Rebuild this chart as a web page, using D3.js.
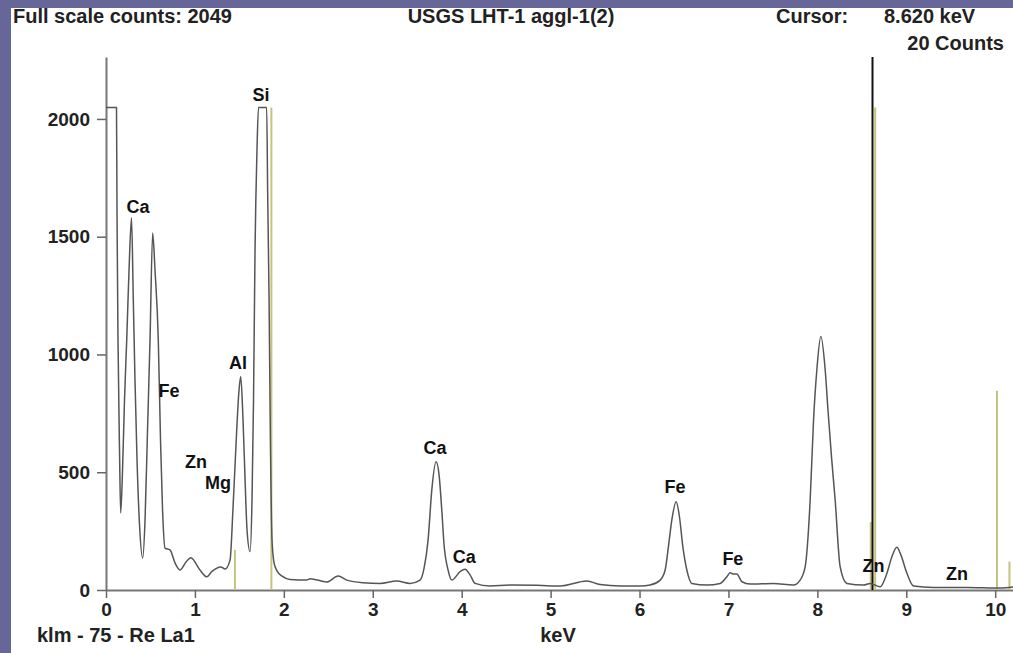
<!DOCTYPE html>
<html>
<head>
<meta charset="utf-8">
<script src="https://cdn.jsdelivr.net/npm/d3@7"></script>
<style>
    body { margin: 0; background: #666699; }
    text { font-family: "Liberation Sans", Arial, sans-serif; }
</style>
</head>
<body>
<svg id="chart"></svg>
<script>
// spectrum trace (energy in keV, counts clipped at full scale)
const spectrumKev = [
    0.000, 0.118, 0.124, 0.135, 0.152, 0.165, 0.186, 0.208, 0.233, 0.259,
    0.287, 0.307, 0.326, 0.349, 0.377, 0.413, 0.439, 0.467, 0.495, 0.525,
    0.551, 0.588, 0.613, 0.636, 0.664, 0.720, 0.776, 0.832, 0.900, 0.953,
    1.057, 1.133, 1.189, 1.290, 1.339, 1.395, 1.429, 1.470, 1.496, 1.515,
    1.541, 1.564, 1.586, 1.620, 1.642, 1.659, 1.676, 1.698, 1.715, 1.807,
    1.818, 1.834, 1.850, 1.867, 1.890, 1.923, 1.980, 2.070, 2.258, 2.295,
    2.483, 2.610, 2.708, 2.891, 3.082, 3.270, 3.420, 3.532, 3.577, 3.622,
    3.664, 3.712, 3.746, 3.776, 3.802, 3.847, 3.889, 3.982, 4.038, 4.094,
    4.151, 4.319, 4.544, 4.845, 5.107, 5.407, 5.557, 5.782, 6.007, 6.119,
    6.232, 6.288, 6.325, 6.363, 6.412, 6.449, 6.487, 6.532, 6.588, 6.757,
    6.907, 6.982, 7.019, 7.053, 7.094, 7.151, 7.244, 7.506, 7.731, 7.806,
    7.863, 7.919, 7.957, 7.994, 8.039, 8.088, 8.120, 8.160, 8.200, 8.256,
    8.332, 8.519, 8.594, 8.706, 8.782, 8.838, 8.894, 8.939, 9.007, 9.081,
    9.306, 9.682, 10.056, 10.203
];
const spectrumCounts = [
    2049, 2049, 1592, 1062, 594, 327, 510, 807, 1062, 1359,
    1580, 1231, 892, 552, 276, 136, 297, 679, 1062, 1516,
    1359, 1062, 637, 340, 178, 170, 115, 85, 119, 137,
    85, 56, 78, 98, 89, 127, 352, 679, 849, 906,
    722, 467, 255, 163, 382, 807, 1444, 1868, 2049, 2049,
    1690, 1231, 594, 212, 115, 81, 59, 45, 42, 48,
    34, 59, 42, 31, 28, 38, 28, 42, 93, 212,
    425, 544, 488, 340, 191, 85, 42, 78, 88, 64,
    28, 17, 21, 20, 17, 38, 23, 17, 17, 21,
    42, 85, 184, 297, 375, 311, 184, 85, 28, 21,
    28, 56, 73, 68, 68, 35, 25, 28, 21, 42,
    99, 382, 722, 934, 1076, 934, 760, 560, 382, 99,
    28, 21, 28, 14, 71, 141, 181, 149, 71, 17,
    11, 11, 8, 13
];

// axis ticks
const xTicks = [0, 1, 2, 3, 4, 5, 6, 7, 8, 9, 10];
const yTicks = [0, 500, 1000, 1500, 2000];

// KLM marker lines (Re)
const markerKev = [1.45, 1.86, 8.60, 8.65, 10.02, 10.16];
const markerCounts = [170, 2049, 289, 2049, 846, 120];

// element labels
const labelNames = ["Si", "Ca", "Fe", "Al", "Zn", "Mg", "Ca", "Ca", "Fe", "Fe", "Zn", "Zn"];
const labelKev = [1.743, 0.36, 0.709, 1.485, 1.012, 1.26, 3.70, 4.03, 6.40, 7.05, 8.63, 9.57];
const labelCounts = [2076, 1601, 820, 938, 518, 429, 577, 115, 412, 106, 76, 42];

// header values
const fullScaleCounts = 2049;
const sampleName = "USGS LHT-1 aggl-1(2)";
const cursorKev = 8.62;
const cursorCounts = 20;
const klmText = "klm - 75 - Re La1";

class SpectrumChart {
    #svg;
    #x;
    #y;

    constructor() {
        this.#setup();
        this.#drawAxes();
        this.#drawMarkers();
        this.#drawSpectrum();
        this.#drawLabels();
    }

    #setup() {
        const width = 1013;
        const height = 653;

        this.#svg = d3.select("#chart")
            .attr("width", width)
            .attr("height", height)
            .style("display", "block");

        // purple frame with the white panel inside
        this.#svg.append("rect")
            .attr("width", width)
            .attr("height", height)
            .attr("fill", "#666699");
        this.#svg.append("rect")
            .attr("x", 11)
            .attr("y", 8)
            .attr("width", width - 11)
            .attr("height", height - 8)
            .attr("fill", "#ffffff");

        this.#x = d3.scaleLinear().domain([0, 10.2]).range([106, 1013]);
        this.#y = d3.scaleLinear().domain([0, 2263]).range([590, 57]);
    }

    #drawAxes() {
        const svg = this.#svg;

        const xAxis = svg.append("g")
            .attr("transform", "translate(0,590)")
            .call(d3.axisBottom(this.#x)
                .tickValues(xTicks)
                .tickSize(8)
                .tickSizeOuter(0)
                .tickPadding(5)
                .tickFormat(d3.format("d")));

        const yAxis = svg.append("g")
            .attr("transform", "translate(106,0)")
            .call(d3.axisLeft(this.#y)
                .tickValues(yTicks)
                .tickSize(9)
                .tickSizeOuter(0)
                .tickPadding(7)
                .tickFormat(d3.format("d")));

        [xAxis, yAxis].forEach(axis => {
            axis.select(".domain").attr("stroke", "#777").attr("stroke-width", 2);
            axis.selectAll(".tick line").attr("stroke", "#666").attr("stroke-width", 1.5);
            axis.selectAll(".tick text")
                .attr("fill", "#222")
                .style("font-size", "19px")
                .style("font-weight", "bold")
                .style("font-family", "'Liberation Sans', Arial, sans-serif");
        });
    }

    #drawMarkers() {
        const x = this.#x;
        const y = this.#y;

        this.#svg.append("g")
            .selectAll("line")
            .data(markerKev)
            .enter()
            .append("line")
            .attr("x1", d => x(d))
            .attr("x2", d => x(d))
            .attr("y1", y(0))
            .attr("y2", (d, i) => y(markerCounts[i]))
            .attr("stroke", "#c4c47e")
            .attr("stroke-width", 2);

        // cursor
        this.#svg.append("line")
            .attr("x1", x(cursorKev))
            .attr("x2", x(cursorKev))
            .attr("y1", y(0))
            .attr("y2", y.range()[1])
            .attr("stroke", "#111")
            .attr("stroke-width", 2);
    }

    #drawSpectrum() {
        const x = this.#x;
        const y = this.#y;

        // monotone keeps the peak tops where they were read
        const line = d3.line()
            .curve(d3.curveMonotoneX)
            .x(d => x(d[0]))
            .y(d => y(d[1]));

        const points = spectrumKev.map((k, i) => [k, spectrumCounts[i]]);

        this.#svg.append("path")
            .datum(points)
            .attr("d", line)
            .attr("fill", "none")
            .attr("stroke", "#555")
            .attr("stroke-width", 1.5)
            .attr("stroke-linejoin", "round");
    }

    #drawLabels() {
        const svg = this.#svg;
        const x = this.#x;
        const y = this.#y;

        svg.append("g")
            .selectAll("text")
            .data(labelNames)
            .enter()
            .append("text")
            .attr("x", (d, i) => x(labelKev[i]))
            .attr("y", (d, i) => y(labelCounts[i]))
            .attr("text-anchor", "middle")
            .attr("fill", "#111")
            .style("font-size", "18px")
            .style("font-weight", "bold")
            .text(d => d);

        const header = svg.append("g")
            .attr("fill", "#222")
            .style("font-size", "20px")
            .style("font-weight", "bold");

        header.append("text").attr("x", 13).attr("y", 23)
            .text("Full scale counts: " + fullScaleCounts);
        header.append("text").attr("x", 511).attr("y", 23).attr("text-anchor", "middle")
            .text(sampleName);
        header.append("text").attr("x", 776).attr("y", 23)
            .text("Cursor:");
        header.append("text").attr("x", 884).attr("y", 23)
            .text(d3.format(".3f")(cursorKev) + " keV");
        header.append("text").attr("x", 1004).attr("y", 50).attr("text-anchor", "end")
            .text(cursorCounts + " Counts");

        header.append("text").attr("x", 37).attr("y", 642)
            .text(klmText);
        header.append("text").attr("x", 558).attr("y", 642).attr("text-anchor", "middle")
            .text("keV");
    }
}

const chart = new SpectrumChart();
</script>
</body>
</html>
